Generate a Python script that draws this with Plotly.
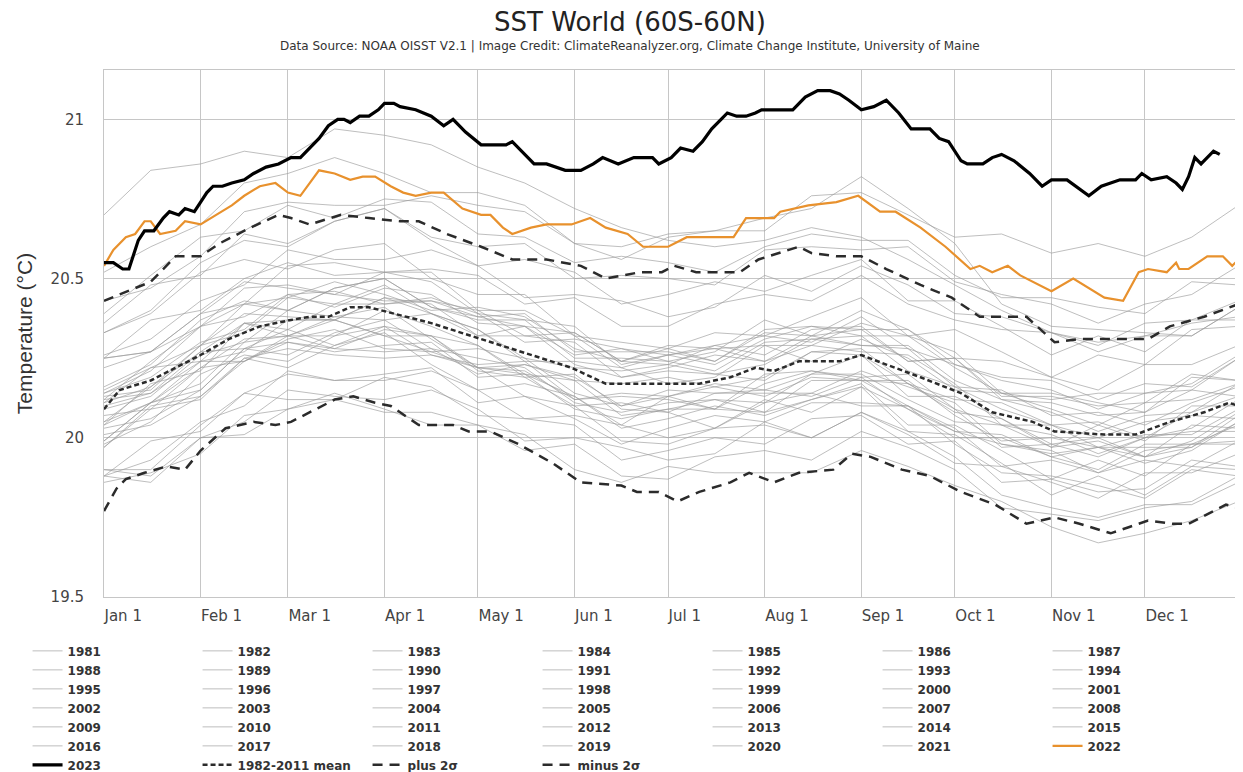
import plotly.graph_objects as go

# ---------------- data ----------------
month_ticks = [0, 31, 59, 90, 120, 151, 181, 212, 243, 273, 304, 334]
month_labels = ["Jan 1", "Feb 1", "Mar 1", "Apr 1", "May 1", "Jun 1",
                "Jul 1", "Aug 1", "Sep 1", "Oct 1", "Nov 1", "Dec 1"]

grey_days = [0, 15, 31, 45, 59, 74, 90, 105, 120, 135, 151, 166, 181, 196,
             212, 227, 243, 258, 273, 288, 304, 319, 334, 349, 364]

y1981 = [19.97,20.09,20.12,20.25,20.22,20.29,20.33,20.23,20.15,20.17,20.13,20.03,20.06,20.10,20.07,20.12,20.17,20.04,20.04,19.96,19.87,19.93,19.88,19.98,19.98]
y1982 = [19.88,19.93,20.05,20.10,20.21,20.18,20.18,20.21,20.15,20.06,20.07,20.04,20.00,20.03,20.12,20.08,20.16,20.09,20.00,20.00,19.94,19.90,19.98,19.98,20.04]
y1983 = [20.05,20.16,20.27,20.28,20.34,20.29,20.35,20.32,20.21,20.19,20.10,20.11,20.08,20.03,20.11,20.14,20.10,20.10,19.98,19.89,19.88,19.85,19.81,19.90,19.88]
y1984 = [19.86,19.89,19.95,20.07,20.09,20.14,20.09,20.04,20.04,20.01,19.90,19.86,19.91,19.89,19.89,19.89,19.96,19.91,19.85,19.80,19.72,19.67,19.70,19.74,19.80]
y1985 = [19.88,19.86,20.00,20.01,20.09,20.12,20.08,20.08,20.04,19.96,19.98,19.88,19.87,19.94,19.96,19.93,20.02,19.97,19.90,19.78,19.76,19.74,19.78,19.80,19.88]
y1986 = [19.88,19.99,20.02,20.14,20.20,20.18,20.20,20.22,20.11,20.13,20.06,19.98,20.03,20.07,20.05,20.11,20.11,20.10,20.03,19.91,19.93,19.89,19.96,19.98,19.99]
y1987 = [20.12,20.14,20.27,20.36,20.37,20.37,20.44,20.39,20.34,20.25,20.22,20.21,20.23,20.20,20.23,20.31,20.32,20.21,20.16,20.15,20.07,20.08,20.04,20.11,20.16]
y1988 = [20.11,20.22,20.24,20.36,20.32,20.38,20.41,20.31,20.22,20.23,20.18,20.07,20.09,20.12,20.08,20.12,20.16,20.02,20.01,19.92,19.82,19.88,19.82,19.91,19.90]
y1989 = [19.90,19.88,20.00,20.05,20.15,20.13,20.12,20.15,20.09,19.99,20.00,19.97,19.93,19.95,20.05,20.00,20.08,20.01,19.92,19.91,19.86,19.81,19.89,19.89,19.95]
y1990 = [19.99,20.11,20.22,20.24,20.32,20.28,20.34,20.32,20.22,20.21,20.12,20.14,20.13,20.09,20.17,20.21,20.18,20.18,20.07,19.99,20.00,19.97,19.94,20.04,20.03]
y1991 = [20.04,20.11,20.17,20.30,20.32,20.37,20.32,20.27,20.28,20.25,20.14,20.10,20.15,20.14,20.14,20.14,20.21,20.16,20.11,19.98,19.95,19.97,19.97,19.97,20.07]
y1992 = [20.05,20.11,20.24,20.24,20.31,20.34,20.28,20.27,20.22,20.13,20.10,19.99,19.98,20.03,20.04,20.00,20.08,20.02,19.94,19.82,19.78,19.75,19.79,19.79,19.86]
y1993 = [19.90,19.90,20.04,20.14,20.12,20.12,20.19,20.16,20.07,20.06,20.04,19.93,19.96,20.00,19.98,20.06,20.07,19.98,19.99,19.86,19.87,19.83,19.84,19.93,19.91]
y1994 = [19.98,20.05,20.20,20.26,20.24,20.32,20.35,20.26,20.23,20.24,20.12,20.13,20.12,20.09,20.20,20.21,20.19,20.20,20.09,20.04,20.01,19.95,20.00,20.03,20.12]
y1995 = [20.10,20.14,20.24,20.27,20.37,20.37,20.32,20.32,20.29,20.19,20.20,20.09,20.08,20.14,20.15,20.13,20.19,20.09,20.02,19.98,19.96,19.89,19.93,19.91,19.99]
y1996 = [20.01,20.04,20.13,20.25,20.28,20.26,20.25,20.26,20.22,20.20,20.09,20.06,20.09,20.09,20.08,20.18,20.18,20.10,20.02,20.01,19.94,19.97,19.92,19.96,20.05]
y1997 = [20.04,20.17,20.21,20.36,20.34,20.42,20.48,20.39,20.32,20.35,20.33,20.24,20.28,20.33,20.32,20.38,20.44,20.32,20.34,20.27,20.19,20.26,20.23,20.34,20.35]
y1998 = [20.33,20.39,20.52,20.56,20.53,20.59,20.61,20.50,20.45,20.45,20.32,20.30,20.28,20.24,20.33,20.32,20.29,20.28,20.16,20.09,20.04,19.97,20.01,20.01,20.09]
y1999 = [19.97,20.10,20.13,20.24,20.30,20.27,20.29,20.30,20.19,20.20,20.13,20.04,20.13,20.16,20.13,20.19,20.18,20.17,20.09,19.97,19.98,19.94,20.00,20.02,20.02]
y2000 = [20.03,20.06,20.15,20.28,20.30,20.28,20.27,20.28,20.25,20.22,20.11,20.08,20.11,20.12,20.11,20.20,20.20,20.12,20.05,20.04,19.97,19.99,19.94,19.99,20.08]
y2001 = [20.09,20.13,20.26,20.30,20.40,20.38,20.37,20.39,20.34,20.24,20.24,20.22,20.17,20.19,20.29,20.24,20.31,20.25,20.15,20.14,20.09,20.04,20.11,20.12,20.17]
y2002 = [20.15,20.22,20.29,20.42,20.44,20.49,20.45,20.40,20.41,20.38,20.28,20.24,20.29,20.28,20.29,20.29,20.36,20.32,20.27,20.14,20.12,20.14,20.14,20.15,20.25]
y2003 = [20.25,20.27,20.39,20.49,20.47,20.45,20.52,20.49,20.39,20.37,20.35,20.23,20.26,20.29,20.26,20.34,20.35,20.24,20.25,20.12,20.11,20.07,20.08,20.15,20.13]
y2004 = [20.12,20.24,20.35,20.38,20.45,20.41,20.47,20.45,20.36,20.35,20.26,20.28,20.26,20.23,20.31,20.35,20.32,20.32,20.22,20.14,20.14,20.11,20.08,20.19,20.18]
y2005 = [20.16,20.23,20.37,20.43,20.40,20.47,20.50,20.41,20.37,20.37,20.25,20.25,20.24,20.21,20.30,20.31,20.29,20.29,20.18,20.12,20.08,20.02,20.07,20.08,20.17]
y2006 = [20.14,20.19,20.30,20.34,20.45,20.46,20.42,20.43,20.40,20.32,20.33,20.24,20.23,20.29,20.32,20.30,20.38,20.28,20.23,20.19,20.18,20.12,20.17,20.16,20.25]
y2007 = [20.25,20.27,20.35,20.47,20.48,20.45,20.43,20.43,20.38,20.35,20.23,20.19,20.21,20.20,20.18,20.27,20.26,20.17,20.08,20.06,19.98,20.00,19.94,19.97,20.05]
y2008 = [19.99,20.11,20.15,20.28,20.26,20.33,20.37,20.28,20.20,20.23,20.19,20.10,20.13,20.17,20.15,20.20,20.26,20.13,20.13,20.06,19.97,20.04,19.99,20.10,20.10]
y2009 = [20.11,20.16,20.29,20.33,20.44,20.42,20.42,20.44,20.39,20.30,20.31,20.28,20.24,20.27,20.37,20.32,20.40,20.34,20.25,20.24,20.19,20.15,20.23,20.23,20.29]
y2010 = [20.25,20.37,20.40,20.50,20.55,20.51,20.52,20.52,20.40,20.40,20.32,20.22,20.26,20.28,20.24,20.29,20.27,20.26,20.17,20.04,20.04,20.00,20.05,20.07,20.06]
y2011 = [20.07,20.09,20.22,20.31,20.32,20.32,20.40,20.35,20.29,20.20,20.18,20.17,20.19,20.16,20.19,20.27,20.28,20.17,20.12,20.11,20.04,20.05,20.00,20.08,20.13]
y2012 = [20.13,20.15,20.29,20.39,20.38,20.37,20.44,20.42,20.32,20.32,20.30,20.19,20.22,20.26,20.24,20.32,20.34,20.24,20.25,20.13,20.13,20.10,20.11,20.20,20.18]
y2013 = [20.14,20.21,20.35,20.42,20.40,20.47,20.50,20.41,20.38,20.39,20.27,20.27,20.27,20.24,20.34,20.35,20.34,20.34,20.23,20.18,20.15,20.09,20.14,20.17,20.26]
y2014 = [20.22,20.27,20.39,20.42,20.54,20.55,20.52,20.53,20.51,20.42,20.44,20.35,20.35,20.42,20.45,20.43,20.51,20.42,20.37,20.34,20.33,20.27,20.32,20.32,20.41]
y2015 = [20.43,20.47,20.57,20.71,20.74,20.73,20.73,20.76,20.73,20.71,20.61,20.60,20.64,20.65,20.65,20.76,20.77,20.70,20.63,20.64,20.58,20.61,20.57,20.63,20.73]
y2016 = [20.70,20.84,20.86,20.90,20.88,20.97,20.95,20.92,20.85,20.80,20.72,20.66,20.62,20.60,20.62,20.66,20.63,20.56,20.48,20.40,20.33,20.30,20.32,20.36,20.38]
y2017 = [20.36,20.48,20.51,20.64,20.61,20.68,20.72,20.62,20.54,20.56,20.52,20.42,20.45,20.49,20.46,20.51,20.56,20.43,20.43,20.35,20.26,20.32,20.27,20.37,20.37]
y2018 = [20.26,20.31,20.43,20.48,20.59,20.56,20.56,20.59,20.54,20.44,20.45,20.43,20.38,20.41,20.51,20.46,20.54,20.48,20.39,20.38,20.33,20.29,20.36,20.37,20.43]
y2019 = [20.39,20.51,20.63,20.65,20.73,20.69,20.75,20.74,20.64,20.63,20.55,20.57,20.55,20.52,20.60,20.64,20.62,20.62,20.51,20.44,20.44,20.41,20.39,20.49,20.48]
y2020 = [20.52,20.60,20.67,20.80,20.83,20.88,20.83,20.77,20.77,20.73,20.61,20.56,20.63,20.65,20.69,20.72,20.82,20.72,20.61,20.42,20.35,20.34,20.33,20.32,20.41]
y2021 = [20.33,20.40,20.55,20.62,20.60,20.68,20.72,20.63,20.60,20.61,20.50,20.51,20.50,20.48,20.59,20.60,20.59,20.60,20.49,20.45,20.42,20.36,20.42,20.45,20.54]

d2022 = [0,3,7,10,13,15,18,23,26,31,36,41,45,50,55,59,63,66,69,74,79,83,87,92,96,100,105,109,115,121,124,128,131,137,142,150,156,161,168,173,181,187,202,206,215,217,226,235,242,249,254,262,270,278,281,285,290,294,304,311,321,327,332,335,341,344,345,348,354,359,362,364]
v2022 = [20.54,20.59,20.63,20.64,20.68,20.68,20.64,20.65,20.68,20.67,20.70,20.73,20.76,20.79,20.80,20.77,20.76,20.80,20.84,20.83,20.81,20.82,20.82,20.79,20.77,20.76,20.77,20.77,20.72,20.70,20.70,20.66,20.64,20.66,20.67,20.67,20.69,20.66,20.64,20.60,20.60,20.63,20.63,20.69,20.69,20.71,20.73,20.74,20.76,20.71,20.71,20.66,20.60,20.53,20.54,20.52,20.54,20.51,20.46,20.50,20.44,20.43,20.52,20.53,20.52,20.55,20.53,20.53,20.57,20.57,20.54,20.56]

d2023 = [0,3,6,8,11,13,16,19,21,24,26,29,31,33,35,38,41,45,48,52,56,60,63,66,69,72,75,77,79,82,85,88,90,93,95,100,105,109,112,116,121,126,129,131,135,138,142,145,148,153,157,160,165,170,176,178,182,185,189,192,195,198,200,203,206,209,211,216,221,225,229,233,236,239,243,247,251,255,259,265,268,271,275,277,282,285,288,292,297,301,304,309,313,316,320,323,326,331,333,336,341,344,346,348,350,352,354,356,358]
v2023 = [20.55,20.55,20.53,20.53,20.62,20.65,20.65,20.69,20.71,20.70,20.72,20.71,20.74,20.77,20.79,20.79,20.80,20.81,20.83,20.85,20.86,20.88,20.88,20.91,20.94,20.98,21.00,21.00,20.99,21.01,21.01,21.03,21.05,21.05,21.04,21.03,21.01,20.98,21.00,20.96,20.92,20.92,20.92,20.93,20.89,20.86,20.86,20.85,20.84,20.84,20.86,20.88,20.86,20.88,20.88,20.86,20.88,20.91,20.90,20.93,20.97,21.00,21.02,21.01,21.01,21.02,21.03,21.03,21.03,21.07,21.09,21.09,21.08,21.06,21.03,21.04,21.06,21.02,20.97,20.97,20.94,20.93,20.87,20.86,20.86,20.88,20.89,20.87,20.83,20.79,20.81,20.81,20.78,20.76,20.79,20.80,20.81,20.81,20.83,20.81,20.82,20.80,20.78,20.82,20.88,20.86,20.88,20.90,20.89]

d_mean = [0,5,15,31,40,50,60,66,72,79,85,93,105,121,137,150,161,191,201,209,215,223,236,243,251,262,275,285,298,305,321,331,342,353,361,364]
v_mean = [20.09,20.15,20.18,20.26,20.31,20.35,20.37,20.38,20.38,20.41,20.41,20.39,20.36,20.31,20.26,20.22,20.17,20.17,20.19,20.22,20.21,20.24,20.24,20.26,20.23,20.19,20.14,20.08,20.05,20.02,20.01,20.01,20.05,20.08,20.11,20.10]

d_plus = [0,5,15,23,31,37,47,56,60,66,76,85,95,101,110,121,131,142,153,161,172,179,183,190,204,210,223,227,235,243,251,262,272,281,296,305,313,326,335,342,353,364]
v_plus = [20.43,20.45,20.49,20.57,20.57,20.61,20.66,20.70,20.69,20.67,20.70,20.69,20.68,20.68,20.64,20.60,20.56,20.56,20.54,20.50,20.52,20.52,20.54,20.52,20.52,20.56,20.60,20.58,20.57,20.57,20.53,20.48,20.44,20.38,20.38,20.30,20.31,20.31,20.31,20.35,20.38,20.42]

d_minus = [0,4,7,13,20,26,31,39,48,55,60,66,74,80,87,92,101,112,117,124,133,144,153,166,171,178,184,191,201,207,215,223,234,240,246,256,265,275,286,296,305,313,323,329,335,343,348,356,360,364]
v_minus = [19.77,19.84,19.87,19.89,19.91,19.90,19.96,20.03,20.05,20.04,20.05,20.08,20.12,20.13,20.11,20.10,20.04,20.04,20.02,20.02,19.98,19.92,19.86,19.85,19.83,19.83,19.80,19.83,19.86,19.89,19.86,19.89,19.90,19.95,19.94,19.90,19.88,19.83,19.79,19.73,19.75,19.73,19.70,19.72,19.74,19.73,19.73,19.77,19.79,19.78]

grey_years = [
    ("1981", y1981), ("1982", y1982), ("1983", y1983), ("1984", y1984), ("1985", y1985),
    ("1986", y1986), ("1987", y1987), ("1988", y1988), ("1989", y1989), ("1990", y1990),
    ("1991", y1991), ("1992", y1992), ("1993", y1993), ("1994", y1994), ("1995", y1995),
    ("1996", y1996), ("1997", y1997), ("1998", y1998), ("1999", y1999), ("2000", y2000),
    ("2001", y2001), ("2002", y2002), ("2003", y2003), ("2004", y2004), ("2005", y2005),
    ("2006", y2006), ("2007", y2007), ("2008", y2008), ("2009", y2009), ("2010", y2010),
    ("2011", y2011), ("2012", y2012), ("2013", y2013), ("2014", y2014), ("2015", y2015),
    ("2016", y2016), ("2017", y2017), ("2018", y2018), ("2019", y2019), ("2020", y2020),
    ("2021", y2021),
]

# ---------------- figure ----------------
fig = go.Figure()

GREY = "rgba(155,155,155,0.65)"
DARK = "#2b2b2b"

for i, (name, vals) in enumerate(grey_years):
    fig.add_trace(go.Scatter(
        x=grey_days, y=vals, mode="lines", name=name,
        line=dict(color=GREY, width=1), legendrank=i + 1, hoverinfo="skip"))

fig.add_trace(go.Scatter(x=d_mean, y=v_mean, mode="lines", name="1982-2011 mean",
                         line=dict(color=DARK, width=2.5, dash="5px,3px"),
                         legendrank=44, hoverinfo="skip"))
fig.add_trace(go.Scatter(x=d_plus, y=v_plus, mode="lines", name="plus 2σ",
                         line=dict(color=DARK, width=2.5, dash="10px,7px"),
                         legendrank=45, hoverinfo="skip"))
fig.add_trace(go.Scatter(x=d_minus, y=v_minus, mode="lines", name="minus 2σ",
                         line=dict(color=DARK, width=2.5, dash="10px,7px"),
                         legendrank=46, hoverinfo="skip"))
fig.add_trace(go.Scatter(x=d2022, y=v2022, mode="lines", name="2022",
                         line=dict(color="#E8912D", width=2.2),
                         legendrank=42, hoverinfo="skip"))
fig.add_trace(go.Scatter(x=d2023, y=v2023, mode="lines", name="2023",
                         line=dict(color="black", width=3.2),
                         legendrank=43, hoverinfo="skip"))

GRID = "#c6c6c6"
# the page body adds an 8px offset, so the figure is drawn 8px smaller
fig.update_layout(
    width=1235, height=764,
    margin=dict(l=96, r=3, t=62, b=175, autoexpand=False),
    paper_bgcolor="white", plot_bgcolor="white",
    font=dict(family="DejaVu Sans", color="#333333"),
    title=dict(text="SST World (60S-60N)", x=0.463, xref="paper", xanchor="center",
               y=1 - 14 / 764, yref="container", yanchor="middle",
               font=dict(family="DejaVu Sans", size=26, color="#222222")),
    annotations=[dict(
        text="Data Source: NOAA OISST V2.1 | Image Credit: ClimateReanalyzer.org, "
             "Climate Change Institute, University of Maine",
        x=0.463, xref="paper", xanchor="center",
        y=(589 - 38) / 527, yref="paper", yanchor="middle",
        showarrow=False, font=dict(family="DejaVu Sans", size=12, color="#333333"))],
    xaxis=dict(range=[0, 364.5], tickmode="array", tickvals=month_ticks,
               ticktext=month_labels, showgrid=True, gridcolor=GRID, gridwidth=1,
               showline=True, linecolor=GRID, linewidth=1, mirror=True,
               zeroline=False, ticks="", ticklabelposition="outside right",
               ticklabelstandoff=5,
               tickfont=dict(family="DejaVu Sans", size=15, color="#444444")),
    yaxis=dict(range=[19.5, 21.155], tickvals=[19.5, 20, 20.5, 21],
               ticktext=["19.5", "20", "20.5", "21"],
               showgrid=True, gridcolor=GRID, gridwidth=1,
               showline=True, linecolor=GRID, linewidth=1, mirror=True,
               zeroline=False, ticks="", ticklabelstandoff=16,
               tickfont=dict(family="DejaVu Sans", size=15, color="#444444"),
               title=dict(text="Temperature (°C)", standoff=12,
                          font=dict(family="Liberation Sans", size=21, color="#333333"))),
    legend=dict(orientation="h", x=-0.0673, xanchor="left", y=-0.0747, yanchor="top",
                entrywidth=125, entrywidthmode="pixels", traceorder="normal",
                font=dict(family="DejaVu Sans", size=12, color="#333333", weight="bold"),
                bgcolor="rgba(0,0,0,0)"),
    showlegend=True,
)

fig.write_html("out.html")
